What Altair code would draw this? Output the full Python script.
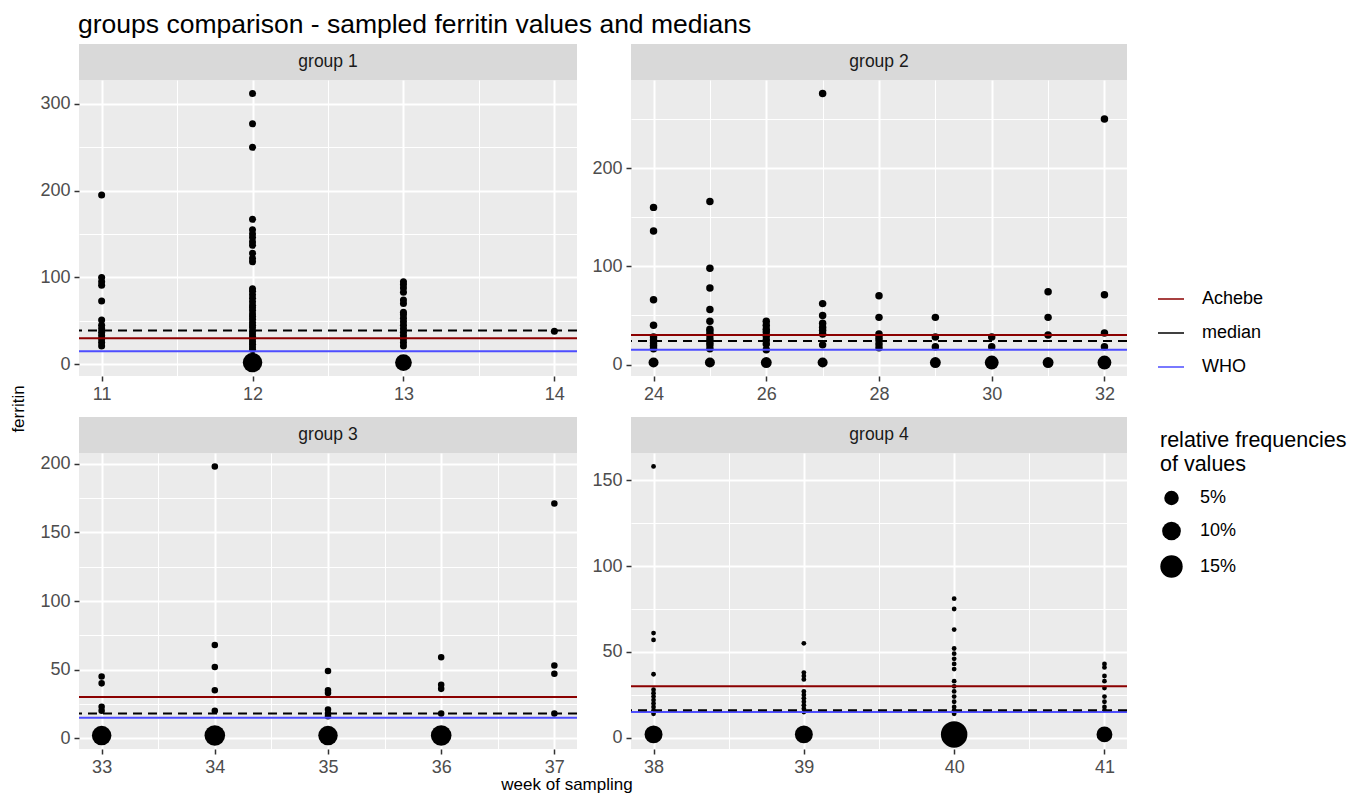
import altair as alt
import pandas as pd

FONT = "Liberation Sans"

# ---------------- data ----------------
# values per week (single observations) and frequency of the blob at ~0
g1_values = {
    11: [195, 100, 95, 91, 73, 51, 45, 41, 37, 33, 29, 25, 21],
    12: [312, 277, 250, 167, 155, 150, 146, 141, 137, 128, 122, 118, 87, 84, 80,
         76, 72, 68, 65, 62, 58, 55, 52, 48, 45, 42, 38, 35, 32, 29, 26, 23, 20, 17],
    13: [95, 92, 88, 83, 74, 70, 60, 57, 53, 49, 45, 41, 37, 33, 29, 25, 21],
    14: [38],
}
g1_zero = {12: 0.11, 13: 0.075}
g1_single = 0.009
g1_median = 39

g2_values = {
    24: [160, 136, 66, 40, 28, 25, 22, 19, 16],
    25: [166, 98, 78, 56, 44, 36, 33, 30, 26, 23, 20, 16],
    26: [44, 40, 36, 33, 29, 25, 21, 15],
    27: [276, 62, 50, 42, 38, 35, 31, 20],
    28: [70, 48, 31, 28, 25, 21, 17],
    29: [48, 28, 18],
    30: [28, 18],
    31: [74, 48, 30],
    32: [250, 71, 32, 18],
}
g2_zero = {24: 0.02, 25: 0.02, 26: 0.025, 27: 0.02, 29: 0.025, 30: 0.045, 31: 0.025, 32: 0.045}
g2_single = 0.01
g2_median = 24

g3_values = {
    33: [45, 40, 23, 20],
    34: [198, 68, 52, 35, 20],
    35: [49, 35, 33, 21, 18, 16],
    36: [59, 39, 36, 18],
    37: [171, 53, 47, 18],
}
g3_zero = {33: 0.11, 34: 0.125, 35: 0.11, 36: 0.125}
g3_single = 0.008
g3_median = 18

g4_values = {
    38: [158, 61, 57, 37, 28, 26, 24, 22, 20, 18, 16, 14],
    39: [55, 38, 36, 34, 27, 25, 23, 21, 19, 17, 15],
    40: [81, 75, 63, 52, 49, 46, 43, 40, 33, 30, 27, 24, 21, 18, 16, 14],
    41: [43, 41, 36, 33, 29, 24, 21, 18, 16],
}
g4_zero = {38: 0.09, 39: 0.09, 40: 0.19, 41: 0.065}
g4_single = 0.005
g4_median = 16

zero_value = 2
achebe_value = 30
who_value = 15

line_names = ["Achebe", "median", "WHO"]
line_colors = ["#8B0000", "#000000", "#4D4DFF"]

size_stops = [0.005, 0.01, 0.02, 0.05, 0.10, 0.15, 0.19]
size_areas = [23, 56, 100, 210, 350, 500, 700]
size_legend_values = [0.05, 0.10, 0.15]

TITLE = "groups comparison - sampled ferritin values and medians"


def build_points(values, zeros, single):
    rows = []
    for wk, vals in values.items():
        for v in vals:
            rows.append({"week": wk, "ferritin": v, "freq": single})
    for wk, f in zeros.items():
        rows.append({"week": wk, "ferritin": zero_value, "freq": f})
    return pd.DataFrame(rows)


size_scale = alt.Scale(domain=size_stops, range=size_areas)
color_scale = alt.Scale(domain=line_names, range=line_colors)

color_legend = alt.Legend(
    orient="none", legendX=1149, legendY=241, symbolType="stroke",
    symbolSize=676, symbolStrokeWidth=1.5, labelFont=FONT, labelFontSize=18,
    labelColor="#000000", rowPadding=11, labelOffset=17, padding=0,
)
size_legend = alt.Legend(
    orient="none", legendX=1152, legendY=386, values=size_legend_values,
    format=".0%", symbolFillColor="black", symbolStrokeWidth=0, symbolOpacity=1,
    labelFont=FONT, labelFontSize=18, labelColor="#000000",
    titleFont=FONT, titleFontSize=21.5, titleFontWeight="normal", titleColor="#000000",
    titlePadding=14, rowPadding=14.5, labelOffset=17, padding=0, titleLimit=300,
)


def panel(pts, median, xdom, ydom, xmaj, xmin, ymaj, ymin, width):
    xs = alt.Scale(domain=xdom, nice=False, zero=False)
    ys = alt.Scale(domain=ydom, nice=False, zero=False)
    minor_common = dict(grid=True, gridColor="white", gridWidth=1, labels=False,
                        ticks=False, domain=False, title=None, minExtent=0, maxExtent=0)
    major_common = dict(grid=True, gridColor="white", gridWidth=2, domain=False,
                        ticks=True, tickColor="#333333", tickSize=5, tickWidth=1.5,
                        labelFont=FONT, labelFontSize=18, labelColor="#4D4D4D",
                        labelPadding=4, title=None)
    minor = alt.Chart(pts).mark_point(opacity=0).encode(
        x=alt.X("week:Q", scale=xs, axis=alt.Axis(values=xmin, orient="bottom", **minor_common)),
        y=alt.Y("ferritin:Q", scale=ys, axis=alt.Axis(values=ymin, orient="left", **minor_common)),
    )
    points = alt.Chart(pts).mark_circle(color="black", opacity=1).encode(
        x=alt.X("week:Q", scale=xs, axis=alt.Axis(values=xmaj, orient="bottom",
                                                   minExtent=26, maxExtent=26, **major_common)),
        y=alt.Y("ferritin:Q", scale=ys, axis=alt.Axis(values=ymaj, orient="left",
                                                       minExtent=40, maxExtent=40, **major_common)),
        size=alt.Size("freq:Q", scale=size_scale,
                      title=["relative frequencies", "of values"], legend=size_legend),
    )
    ref_df = pd.DataFrame({"line": ["Achebe", "WHO"], "value": [achebe_value, who_value]})
    med_df = pd.DataFrame({"line": ["median"], "value": [median]})
    refs = alt.Chart(ref_df).mark_rule(strokeWidth=2).encode(
        y=alt.Y("value:Q", scale=ys, axis=None),
        color=alt.Color("line:N", scale=color_scale, title=None, legend=color_legend),
    )
    med = alt.Chart(med_df).mark_rule(strokeWidth=2, strokeDash=[9, 6]).encode(
        y=alt.Y("value:Q", scale=ys, axis=None),
        color=alt.Color("line:N", scale=color_scale, title=None, legend=color_legend),
    )
    return alt.layer(minor, points, refs, med).resolve_axis(
        x="independent", y="independent"
    ).properties(width=width, height=296,
                 view=alt.ViewBackground(fill="#EBEBEB", stroke=None))


def strip(name, width):
    return alt.Chart(pd.DataFrame({"label": [name]})).mark_text(
        font=FONT, fontSize=17.5, color="#1A1A1A"
    ).encode(text="label:N").properties(
        width=width, height=36, view=alt.ViewBackground(fill="#D9D9D9", stroke=None))


def cell(name, pts, median, xdom, ydom, xmaj, xmin, ymaj, ymin, width):
    return alt.vconcat(strip(name, width),
                       panel(pts, median, xdom, ydom, xmaj, xmin, ymaj, ymin, width),
                       spacing=0)


c1 = cell("group 1", build_points(g1_values, g1_zero, g1_single), g1_median,
          [10.85, 14.15], [-13.5, 327.5], [11, 12, 13, 14], [11.5, 12.5, 13.5],
          [0, 100, 200, 300], [50, 150, 250], 498)
c2 = cell("group 2", build_points(g2_values, g2_zero, g2_single), g2_median,
          [23.6, 32.4], [-11.7, 289.7], [24, 26, 28, 30, 32], [25, 27, 29, 31],
          [0, 100, 200], [50, 150, 250], 496)
c3 = cell("group 3", build_points(g3_values, g3_zero, g3_single), g3_median,
          [32.8, 37.2], [-7.8, 207.8], [33, 34, 35, 36, 37], [33.5, 34.5, 35.5, 36.5],
          [0, 50, 100, 150, 200], [25, 75, 125, 175], 498)
c4 = cell("group 4", build_points(g4_values, g4_zero, g4_single), g4_median,
          [37.85, 41.15], [-6.5, 165.8], [38, 39, 40, 41], [38.5, 39.5, 40.5],
          [0, 50, 100, 150], [25, 75, 125], 496)

grid = alt.vconcat(alt.hconcat(c1, c2, spacing=13), alt.hconcat(c3, c4, spacing=13), spacing=14)

ylab = alt.Chart(pd.DataFrame({"t": ["ferritin"]})).mark_text(
    font=FONT, fontSize=17, angle=270, color="#000000"
).encode(text="t:N").properties(width=22, height=730)

xlab = alt.Chart(pd.DataFrame({"t": ["week of sampling"]})).mark_text(
    font=FONT, fontSize=17, color="#000000"
).encode(text="t:N").properties(width=1118, height=18)

chart = alt.vconcat(
    alt.hconcat(ylab, grid, spacing=9),
    xlab,
    spacing=0,
).resolve_scale(color="shared", size="shared").properties(
    title=alt.TitleParams(TITLE, anchor="start", font=FONT, fontSize=26.5,
                          fontWeight="normal", color="#000000", dx=70, offset=6),
    padding={"top": 3, "left": 0, "right": 0, "bottom": 0},
).configure_view(stroke=None)

chart.save("out.html", embed_options={"renderer": "svg", "actions": False})
